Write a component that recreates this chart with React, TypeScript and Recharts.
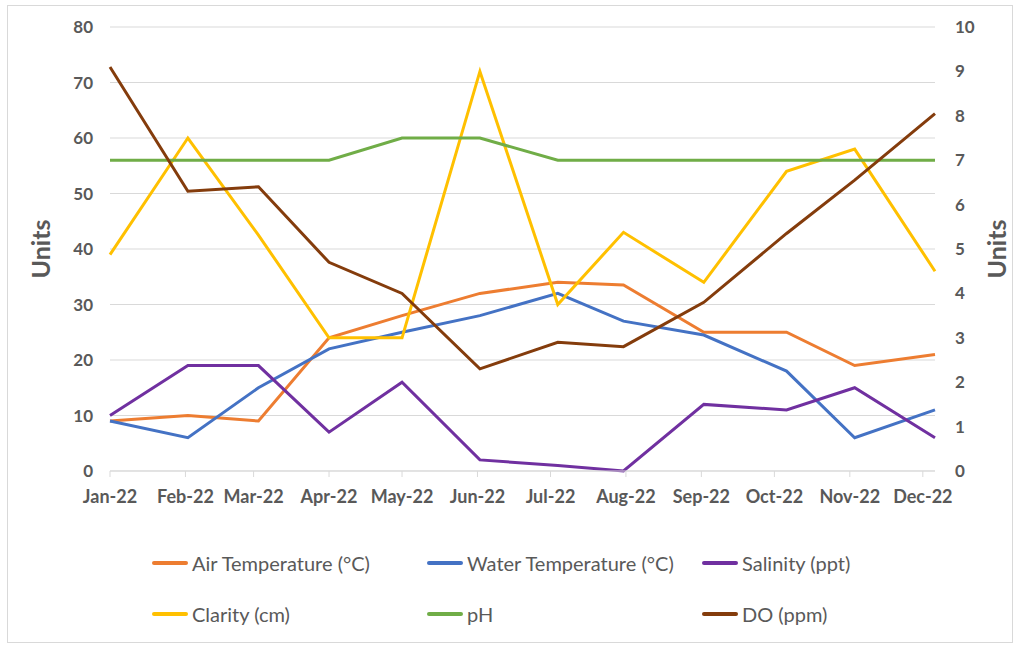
import React from 'react';
import { LineChart, Line, XAxis, YAxis, CartesianGrid } from 'recharts';

// monthly sampling, x axis is a date axis (day of year, Jan 1 = 0)
const monthLabels = ['Jan-22', 'Feb-22', 'Mar-22', 'Apr-22', 'May-22', 'Jun-22', 'Jul-22', 'Aug-22', 'Sep-22', 'Oct-22', 'Nov-22', 'Dec-22'];
const monthStarts = [0, 31, 59, 90, 120, 151, 181, 212, 243, 273, 304, 334];
const sampleDays = [0, 32, 61, 90, 120, 152, 184, 211, 244, 278, 306, 339];

const airTemp = [9, 10, 9, 24, 28, 32, 34, 33.5, 25, 25, 19, 21];
const waterTemp = [9, 6, 15, 22, 25, 28, 32, 27, 24.5, 18, 6, 11];
const salinity = [10, 19, 19, 7, 16, 2, 1, 0, 12, 11, 15, 6];
const clarity = [39, 60, 42.5, 24, 24, 72, 30, 43, 34, 54, 58, 36];
const ph = [7, 7, 7, 7, 7.5, 7.5, 7, 7, 7, 7, 7, 7];
const dissolvedO2 = [9.1, 6.3, 6.4, 4.7, 4.0, 2.3, 2.9, 2.8, 3.8, 5.35, 6.55, 8.05];

const leftTicks = [0, 10, 20, 30, 40, 50, 60, 70, 80];
const rightTicks = [0, 1, 2, 3, 4, 5, 6, 7, 8, 9, 10];

const series = [
  { key: 'air', name: 'Air Temperature (°C)', color: '#ED7D31', axis: 'left' },
  { key: 'water', name: 'Water Temperature (°C)', color: '#4472C4', axis: 'left' },
  { key: 'salinity', name: 'Salinity (ppt)', color: '#7030A0', axis: 'left' },
  { key: 'clarity', name: 'Clarity (cm)', color: '#FFC000', axis: 'left' },
  { key: 'ph', name: 'pH', color: '#70AD47', axis: 'right' },
  { key: 'do', name: 'DO (ppm)', color: '#843C0C', axis: 'right' },
];

const data = sampleDays.map((day, i) => ({
  day,
  air: airTemp[i],
  water: waterTemp[i],
  salinity: salinity[i],
  clarity: clarity[i],
  ph: ph[i],
  do: dissolvedO2[i],
}));

const FONT = 'Lato, "Open Sans", sans-serif';
const TEXT = '#595959';
const GRID = '#d9d9d9';

const legendCols = [152, 427, 702];
const legendRows = [563, 614];

const ChartLegend = () => (
  <>
    {series.map((s, i) => {
      const left = legendCols[i % 3];
      const top = legendRows[Math.floor(i / 3)];
      return (
        <div key={s.key} style={{ position: 'absolute', left, top: top - 14, height: 28, display: 'flex', alignItems: 'center' }}>
          <div style={{ width: 36, height: 4, background: s.color, marginRight: 4, borderRadius: 2 }} />
          <span style={{ fontFamily: FONT, fontSize: 20, color: TEXT, whiteSpace: 'nowrap' }}>{s.name}</span>
        </div>
      );
    })}
  </>
);

export default function App() {
  return (
    <div style={{ position: 'absolute', left: 0, top: 0, width: 1018, height: 646, background: '#fff', fontFamily: FONT }}>
      <div style={{ position: 'absolute', left: 7, top: 5, width: 1004, height: 636, border: `1px solid ${GRID}` }} />
      <LineChart
        width={1018}
        height={520}
        data={data}
        margin={{ top: 27, right: 0, bottom: 0, left: 0 }}
        style={{ position: 'absolute', left: 0, top: 0 }}
      >
        <CartesianGrid yAxisId="left" vertical={false} stroke={GRID} strokeWidth={1.2} />
        <XAxis
          dataKey="day"
          type="number"
          domain={[0, 339]}
          ticks={monthStarts}
          tickFormatter={(v: number) => monthLabels[monthStarts.indexOf(v)]}
          height={49}
          stroke={GRID}
          tickSize={6}
          tickMargin={13}
          tick={{ fill: TEXT, fontSize: 18, fontWeight: 700, fontFamily: FONT }}
          interval={0}
        />
        <YAxis
          yAxisId="left"
          width={110}
          domain={[0, 80]}
          ticks={leftTicks}
          axisLine={false}
          tickLine={false}
          tickSize={0}
          tickMargin={17}
          tick={{ fill: TEXT, fontSize: 17, fontWeight: 700, fontFamily: FONT }}
          label={{ value: 'Units', angle: -90, position: 'center', dx: -14, fill: TEXT, fontSize: 25, fontWeight: 700 }}
        />
        <YAxis
          yAxisId="right"
          orientation="right"
          width={83}
          domain={[0, 10]}
          ticks={rightTicks}
          axisLine={false}
          tickLine={false}
          tickSize={0}
          tickMargin={20}
          tick={{ fill: TEXT, fontSize: 17, fontWeight: 700, fontFamily: FONT }}
          label={{ value: 'Units', angle: -90, position: 'center', dx: 21, fill: TEXT, fontSize: 25, fontWeight: 700 }}
        />
        {series.map((s) => (
          <Line
            key={s.key}
            yAxisId={s.axis}
            dataKey={s.key}
            name={s.name}
            type="linear"
            stroke={s.color}
            strokeWidth={3}
            dot={false}
            activeDot={false}
            isAnimationActive={false}
          />
        ))}
      </LineChart>
      <ChartLegend />
    </div>
  );
}
